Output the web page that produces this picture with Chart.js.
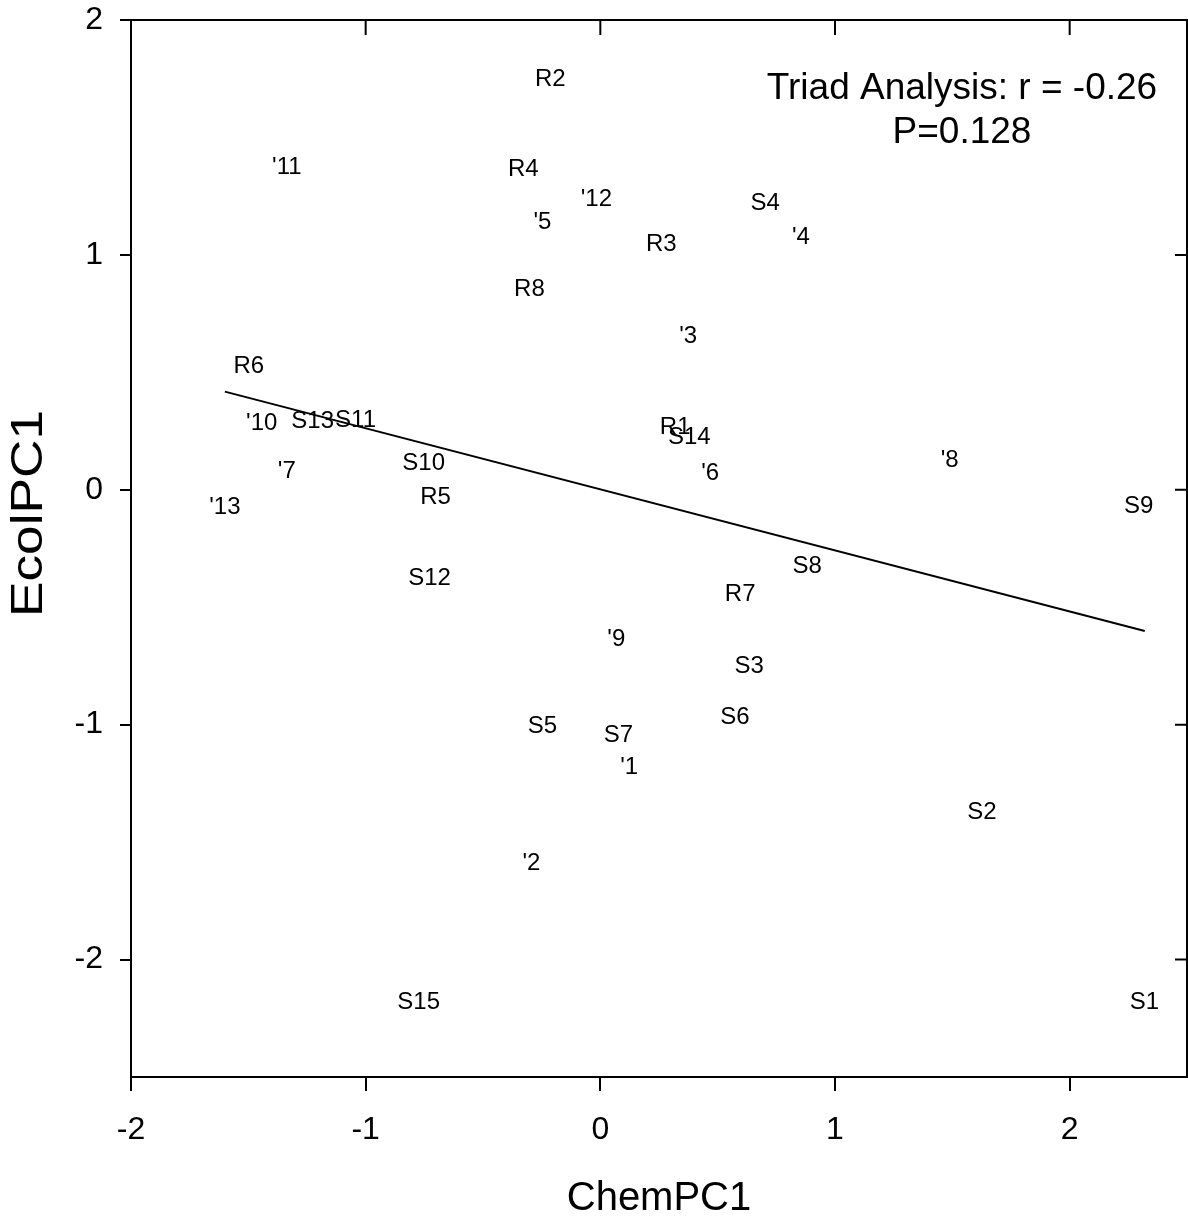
<!DOCTYPE html>
<html><head><meta charset="utf-8">
<script src="https://cdn.jsdelivr.net/npm/chart.js@4/dist/chart.umd.min.js"></script>
<style>html,body{margin:0;padding:0;background:#fff}#wrap{width:1188px;height:1219px;position:relative}</style>
</head><body><div id="wrap"><canvas id="c"></canvas></div>
<script>
// ---- data ----
const siteLabels = ["R2","'11","R4","'12","S4","'5","'4","R3","R8","'3","R6","'10","S13","S11","R1","S14","'6","'8","S10","'7","R5","'13","S9","S8","S12","R7","'9","S3","S6","S5","S7","'1","S2","'2","S15","S1"];
const chemPC1 = [-0.213,-1.336,-0.328,-0.017,0.702,-0.247,0.855,0.260,-0.302,0.374,-1.498,-1.443,-1.226,-1.043,0.319,0.379,0.468,1.489,-0.753,-1.336,-0.702,-1.600,2.294,0.881,-0.728,0.596,0.068,0.634,0.574,-0.247,0.077,0.123,1.626,-0.294,-0.774,2.319];
const ecolPC1 = [1.757,1.382,1.373,1.245,1.228,1.147,1.083,1.053,0.861,0.661,0.533,0.290,0.299,0.303,0.273,0.230,0.077,0.132,0.119,0.085,-0.026,-0.068,-0.064,-0.316,-0.367,-0.435,-0.627,-0.742,-0.959,-0.998,-1.036,-1.173,-1.365,-1.582,-2.175,-2.175];
const fitX = [-1.6, 2.32];
const fitY = [0.418, -0.601];
const xTicks = [-2, -1, 0, 1, 2];
const yTicks = [-2, -1, 0, 1, 2];
const xRange = [-2, 2.5];
const yRange = [-2.5, 2];
const annotationLines = ["Triad Analysis: r = -0.26", "P=0.128"];
const xTitle = "ChemPC1";
const yTitle = "EcolPC1";

const FONT = "'Liberation Sans', Arial, Helvetica, sans-serif";

const pointData = chemPC1.map((x, i) => ({x: x, y: ecolPC1[i]}));
const fitData = fitX.map((x, i) => ({x: x, y: fitY[i]}));

const decor = {
  id: 'decor',
  afterDatasetsDraw(chart) {
    const ctx = chart.ctx;
    ctx.save();
    const meta = chart.getDatasetMeta(0);
    ctx.fillStyle = '#000';
    ctx.font = '24px ' + FONT;
    ctx.textAlign = 'center';
    ctx.textBaseline = 'alphabetic';
    meta.data.forEach((el, i) => {
      ctx.fillText(siteLabels[i], el.x, el.y + 0.358 * 24);
    });
    ctx.restore();
  },
  afterDraw(chart) {
    const ctx = chart.ctx;
    const ca = chart.chartArea;
    const xs = chart.scales.x, ys = chart.scales.y;
    ctx.save();
    ctx.strokeStyle = '#000';
    ctx.lineWidth = 2;
    ctx.beginPath();
    ctx.moveTo(ca.left, ca.top); ctx.lineTo(ca.right, ca.top); ctx.lineTo(ca.right, ca.bottom);
    ctx.stroke();
    ctx.beginPath();
    xTicks.forEach(v => { const p = xs.getPixelForValue(v); ctx.moveTo(p, ca.top); ctx.lineTo(p, ca.top + 15); });
    yTicks.forEach(v => { const p = ys.getPixelForValue(v); ctx.moveTo(ca.right, p); ctx.lineTo(ca.right - 12, p); });
    ctx.stroke();
    ctx.fillStyle = '#000';
    ctx.font = '37px ' + FONT;
    ctx.textAlign = 'center';
    ctx.textBaseline = 'alphabetic';
    const ax = ca.right - 225;
    ctx.fillText(annotationLines[0], ax, 86 + 0.358 * 37);
    ctx.fillText(annotationLines[1], ax, 130 + 0.358 * 37);
    ctx.font = '40px ' + FONT;
    ctx.fillText(xTitle, (ca.left + ca.right) / 2, 1196 + 0.358 * 40);
    ctx.save();
    ctx.translate(26, (ca.top + ca.bottom) / 2 - 35);
    ctx.rotate(-Math.PI / 2);
    ctx.font = '44px ' + FONT;
    const w = ctx.measureText(yTitle).width;
    ctx.scale(207 / w, 1);
    ctx.fillText(yTitle, 0, 0.358 * 44);
    ctx.restore();
    ctx.restore();
  }
};

function zeroPad(s) { s.paddingTop = 0; s.paddingBottom = 0; s.paddingLeft = 0; s.paddingRight = 0; }

new Chart(document.getElementById('c'), {
  type: 'scatter',
  data: {
    datasets: [
      { data: pointData, pointRadius: 0, pointHoverRadius: 0, showLine: false },
      { data: fitData, showLine: true, pointRadius: 0, borderColor: '#000', borderWidth: 2, fill: false }
    ]
  },
  options: {
    responsive: true,
    maintainAspectRatio: false,
    animation: false,
    devicePixelRatio: 1,
    layout: { padding: { top: 20, right: 1, left: 0, bottom: 0 } },
    plugins: { legend: { display: false }, tooltip: { enabled: false } },
    scales: {
      x: {
        type: 'linear', min: xRange[0], max: xRange[1],
        afterBuildTicks: s => { s.ticks = xTicks.map(v => ({ value: v })); },
        afterFit: s => { s.height = 142; zeroPad(s); },
        grid: { drawOnChartArea: false, drawTicks: true, tickLength: 14, color: '#000', lineWidth: 2 },
        border: { display: true, color: '#000', width: 2 },
        ticks: { color: '#000', font: { family: FONT, size: 32 }, padding: 20, maxRotation: 0 }
      },
      y: {
        type: 'linear', min: yRange[0], max: yRange[1],
        afterBuildTicks: s => { s.ticks = yTicks.map(v => ({ value: v })); },
        afterFit: s => { s.width = 131; zeroPad(s); },
        grid: { drawOnChartArea: false, drawTicks: true, tickLength: 11, color: '#000', lineWidth: 2 },
        border: { display: true, color: '#000', width: 2 },
        ticks: { color: '#000', font: { family: FONT, size: 32 }, padding: 17 }
      }
    }
  },
  plugins: [decor]
});
</script>
</body></html>
